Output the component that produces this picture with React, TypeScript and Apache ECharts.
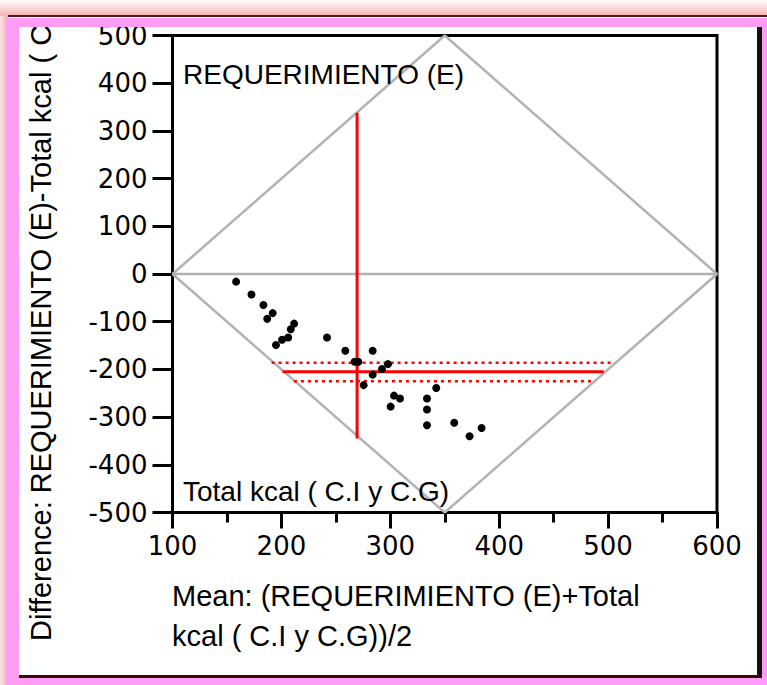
import React, { useEffect, useRef } from "react";
import * as echarts from "echarts";

// Bland-Altman points
const meanValues = [158.4, 172.5, 183.5, 192, 187, 211.7, 208.6, 206.2, 200.6, 195, 241.9, 258.7, 267.3, 270.6, 283.8, 297.9, 292.4, 283.8, 275.5, 342.2, 303.4, 308.9, 300.3, 333.7, 333.7, 333.7, 358.7, 383.8, 372.8];
const diffValues = [-16, -43, -65, -82, -94, -104, -116, -133, -138, -149, -133, -161, -184, -184, -161, -189, -199, -211, -233, -239, -255, -261, -278, -261, -284, -317, -312, -323, -340];

// Reference (gray) lines
const diamondMean = [100, 350, 600, 350, 100];
const diamondDiff = [0, 500, 0, -500, 0];
const zeroMean = [100, 600];
const zeroDiff = [0, 0];

// Red summary lines
const meanOfMeans = 269.5;
const meanOfMeansSpan = [338, -345];
const meanDiff = -205;
const meanDiffSpan = [201, 496];
const upperLimit = -186;
const upperLimitSpan = [191, 504];
const lowerLimit = -225;
const lowerLimitSpan = [211.5, 488];

// Axes
const xMin = 100, xMax = 600, xStep = 100;
const yMin = -500, yMax = 500, yStep = 100;

const yTitle = "Difference: REQUERIMIENTO (E)-Total kcal ( C.I y C.G)";
const xTitleLines = ["Mean: (REQUERIMIENTO (E)+Total", "kcal ( C.I y C.G))/2"];
const topNote = "REQUERIMIENTO (E)";
const bottomNote = "Total kcal ( C.I y C.G)";

const PINK = "#fc9cf4";
const TITLE_FONT = "Liberation Sans, Arial, sans-serif";

export default function App() {
  const ref = useRef<HTMLDivElement>(null);
  useEffect(() => {
    if (!ref.current) return;
    const chart = echarts.init(ref.current, undefined, { renderer: "svg" });
    const pairs = (xs: number[], ys: number[]) => xs.map((x, i) => [x, ys[i]]);
    const grayLine = { color: "#b2b2b2", width: 2.5 };
    const lineBase = { type: "line" as const, symbol: "none", silent: true, animation: false };
    chart.setOption({
      animation: false,
      backgroundColor: "#fff",
      grid: { left: 172.5, right: 50, top: 35.5, bottom: 172.5, show: true, borderColor: "#000", borderWidth: 3, backgroundColor: "#fff" },
      xAxis: {
        type: "value", min: xMin, max: xMax, interval: xStep,
        axisLine: { show: true, onZero: false, lineStyle: { color: "#000", width: 3 } },
        axisTick: { show: true, length: 16, lineStyle: { color: "#000", width: 3 } },
        minorTick: { show: true, splitNumber: 2, length: 10, lineStyle: { color: "#000", width: 3 } },
        splitLine: { show: false },
        axisLabel: { color: "#000", fontSize: 26, fontFamily: "DejaVu Sans", margin: 20 },
      },
      yAxis: {
        type: "value", min: yMin, max: yMax, interval: yStep,
        axisLine: { show: true, onZero: false, lineStyle: { color: "#000", width: 3 } },
        axisTick: { show: true, length: 20, lineStyle: { color: "#000", width: 3 } },
        splitLine: { show: false },
        axisLabel: { color: "#000", fontSize: 26, fontFamily: "DejaVu Sans", margin: 25 },
      },
      series: [
        { ...lineBase, data: pairs(diamondMean, diamondDiff), lineStyle: grayLine, z: 1 },
        { ...lineBase, data: pairs(zeroMean, zeroDiff), lineStyle: grayLine, z: 1 },
        { ...lineBase, data: [[meanOfMeans, meanOfMeansSpan[0]], [meanOfMeans, meanOfMeansSpan[1]]], lineStyle: { color: "#ff0000", width: 3 }, z: 2 },
        { ...lineBase, data: [[meanDiffSpan[0], meanDiff], [meanDiffSpan[1], meanDiff]], lineStyle: { color: "#ff0000", width: 3 }, z: 2 },
        { ...lineBase, data: [[upperLimitSpan[0], upperLimit], [upperLimitSpan[1], upperLimit]], lineStyle: { color: "#ff0000", width: 2.5, type: [3, 4] }, z: 2 },
        { ...lineBase, data: [[lowerLimitSpan[0], lowerLimit], [lowerLimitSpan[1], lowerLimit]], lineStyle: { color: "#ff0000", width: 2.5, type: [3, 4] }, z: 2 },
        {
          type: "scatter", data: pairs(meanValues, diffValues), symbol: "circle", symbolSize: 8,
          itemStyle: { color: "#000", opacity: 1 }, z: 3, silent: true,
        },
      ],
      graphic: [
        { type: "text", x: 183, y: 74, z: 5, style: { text: topNote, fill: "#000", fontSize: 28, fontFamily: TITLE_FONT, textAlign: "left", textVerticalAlign: "middle" } },
        { type: "text", x: 183, y: 491, z: 5, style: { text: bottomNote, fill: "#000", fontSize: 28, fontFamily: TITLE_FONT, textAlign: "left", textVerticalAlign: "middle" } },
        { type: "text", x: 172, y: 596, z: 5, style: { text: xTitleLines[0], fill: "#000", fontSize: 29, fontFamily: TITLE_FONT, textAlign: "left", textVerticalAlign: "middle" } },
        { type: "text", x: 172, y: 636, z: 5, style: { text: xTitleLines[1], fill: "#000", fontSize: 29, fontFamily: TITLE_FONT, textAlign: "left", textVerticalAlign: "middle" } },
        { type: "text", x: 41, y: 641, rotation: Math.PI / 2, z: 5, style: { text: yTitle, fill: "#000", fontSize: 29, fontFamily: TITLE_FONT, textAlign: "left", textVerticalAlign: "middle" } },
        // frame
        { type: "rect", z: 50, shape: { x: 0, y: 0, width: 767, height: 16 }, style: { fill: new echarts.graphic.LinearGradient(0, 0, 0, 1, [{ offset: 0, color: "#ffffff" }, { offset: 1, color: "#f2b0b0" }]) } },
        { type: "rect", z: 50, shape: { x: 0, y: 16, width: 8, height: 669 }, style: { fill: new echarts.graphic.LinearGradient(0, 0, 1, 0, [{ offset: 0, color: "#fbe3e3" }, { offset: 1, color: "#f2b0b0" }]) } },
        { type: "rect", z: 51, shape: { x: 8, y: 18, width: 759, height: 9 }, style: { fill: PINK } },
        { type: "rect", z: 51, shape: { x: 6, y: 18, width: 13, height: 667 }, style: { fill: PINK } },
        { type: "rect", z: 51, shape: { x: 6, y: 678, width: 761, height: 7 }, style: { fill: PINK } },
        { type: "rect", z: 51, shape: { x: 762, y: 18, width: 5, height: 667 }, style: { fill: PINK } },
        { type: "rect", z: 52, shape: { x: 8, y: 15, width: 759, height: 2 }, style: { fill: "#5a1818" } },
        { type: "rect", z: 52, shape: { x: 757, y: 27, width: 5, height: 651 }, style: { fill: "#111" } },
        { type: "rect", z: 52, shape: { x: 19, y: 675, width: 743, height: 3 }, style: { fill: "#3a0a0a" } },
      ],
    });
    return () => chart.dispose();
  }, []);
  return <div ref={ref} style={{ position: "absolute", left: 0, top: 0, width: 767, height: 685 }} />;
}
